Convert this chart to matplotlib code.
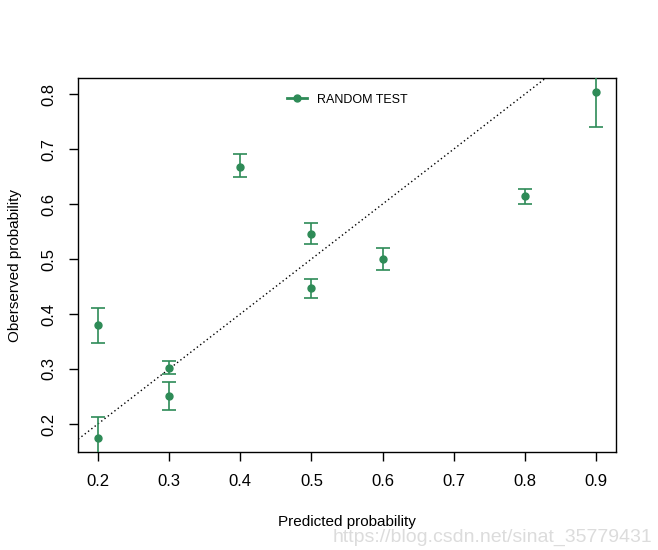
import matplotlib.pyplot as plt

plt.rcParams['font.family'] = ['Liberation Sans', 'DejaVu Sans']

pred = [0.2, 0.2, 0.3, 0.3, 0.4, 0.5, 0.5, 0.6, 0.8, 0.9]
obs = [0.174, 0.380, 0.302, 0.251, 0.668, 0.545, 0.447, 0.500, 0.614, 0.804]
lower = [0.13, 0.347, 0.291, 0.226, 0.649, 0.527, 0.430, 0.480, 0.600, 0.740]
upper = [0.212, 0.411, 0.315, 0.276, 0.691, 0.565, 0.463, 0.520, 0.628, 0.86]

green = '#2E8B57'

fig = plt.figure(figsize=(6.58, 5.5), dpi=100)
ax = fig.add_axes([0.1185, 0.178, 0.8176, 0.68])

yerr = [[o - lo for o, lo in zip(obs, lower)], [hi - o for o, hi in zip(obs, upper)]]
ax.errorbar(pred, obs, yerr=yerr, fmt='o', color=green, ms=5, capsize=5,
            elinewidth=1.2, capthick=1.2, zorder=3)

# R-style 4% padding around the data range
xr = max(pred) - min(pred)
yr = max(obs) - min(obs)
ax.set_xlim(min(pred) - 0.04 * xr, max(pred) + 0.04 * xr)
ax.set_ylim(min(obs) - 0.04 * yr, max(obs) + 0.04 * yr)

ax.plot([0, 1], [0, 1], linestyle=(0, (1, 2)), color='black', lw=1, zorder=2)

ax.set_xticks([0.2, 0.3, 0.4, 0.5, 0.6, 0.7, 0.8, 0.9])
ax.set_yticks([0.2, 0.3, 0.4, 0.5, 0.6, 0.7, 0.8])
ax.tick_params(direction='out', length=6.5, width=1, labelsize=12, pad=9)
for lab in ax.get_yticklabels():
    lab.set_rotation(90)
    lab.set_va('center')
for s in ax.spines.values():
    s.set_linewidth(1)

ax.set_xlabel('Predicted probability', fontsize=11, labelpad=19)
ax.set_ylabel('Oberserved probability', fontsize=11, labelpad=14)

ax.plot([], [], '-o', color=green, ms=5, lw=2, label='RANDOM TEST')
ax.legend(loc='upper center', frameon=False, fontsize=9, handlelength=1.6,
          bbox_to_anchor=(0.5, 1.0), borderaxespad=0.85)

fig.text(0.992, 0.022, 'https://blog.csdn.net/sinat_35779431', ha='right',
         va='center', fontsize=14, color='#dcdcdc')

fig.savefig('out.png', dpi=100)
